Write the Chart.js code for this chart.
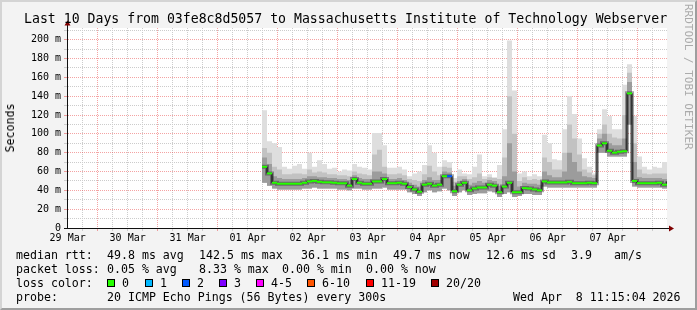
<!DOCTYPE html>
<html><head><meta charset="utf-8">
<script src="https://cdn.jsdelivr.net/npm/chart.js@4/dist/chart.umd.min.js"></script>
<style>
html,body{margin:0;padding:0;background:#f3f3f3;}
#wrap{position:relative;width:697px;height:310px;overflow:hidden;background:#f3f3f3;font-family:'DejaVu Sans Mono',monospace;color:#000;}
#c{position:absolute;left:0;top:0;}
.t{position:absolute;white-space:pre;font-size:11.6px;line-height:14px;}
.sw{position:absolute;width:8px;height:8px;box-sizing:border-box;border:1px solid #000;}
#frame{position:absolute;left:0;top:0;width:697px;height:310px;box-sizing:border-box;border-top:2px solid #d4d4d4;border-left:2px solid #d4d4d4;border-right:2px solid #9e9e9e;border-bottom:2px solid #9e9e9e;pointer-events:none;}
</style></head>
<body>
<div id="wrap">
<canvas id="c" width="697" height="310"></canvas>
<div class="t" style="left:24px;top:11px;font-size:13.2px;line-height:16px;">Last 10 Days from 03fe8c8d5057 to Massachusetts Institute of Technology Webserver</div>
<div class="t" style="left:10px;top:128px;transform:translate(-50%,-50%) rotate(-90deg);">Seconds</div>
<div class="t" style="left:682px;top:4px;writing-mode:vertical-rl;font-size:11px;line-height:12px;color:#ababab;">RRDTOOL / TOBI OETIKER</div>
<div id="legend"></div>
<div id="frame"></div>
</div>
<script>
// ---- data (hours since 29 Mar 00:00; one sample column per 2 h) ----
const dayLabels = ['29 Mar','30 Mar','31 Mar','01 Apr','02 Apr','03 Apr','04 Apr','05 Apr','06 Apr','07 Apr'];
const axisStartHour = 11.75, axisEndHour = 251.75;
const sampleStartHour = 89.75, sampleStepHours = 2;

const medianRtt = [65,58,48,47,47,47,47,47,48,49.5, 50,49,48.5,48.5,48,47.5,47.5,45,52,48,
  47,47,49.5,49.5,52,47.6,47.6,48,47,43.5, 41,38.5,46,47,45,46,55,55,39,46,
  48,40,42,43,43,46,45,38,44,48, 38,38,42.4,42,41,40,49.5,48.4,48.4,48.4,
  48.4,49,47.6,47.6,47.6,48,47.6,87.6,90,82, 80,81,81.5,143,50,47.6,47.6,47.6,47.6,48,
  46,49.5];
const minRtt = [48,45,42,41,41,41,41,41,42,42, 43,42,42,42,42,41,41,40,42,42,
  41,41,42,42,43,41,41,41,41,38, 36,34,38,40,38,39,42,40,34,38,
  40,35,36,37,37,39,38,33,36,38, 33,34,36,36,35,35,44,43,43,43,
  43,43,43,43,43,43,43,80,80,76, 76,76,76,110,44,43,43,43,43,43,
  42,43];
const p75Rtt = [75,68,55,53,52,52,52,52,53,55, 55,54,54,53,53,52,52,51,56,53,
  52,52,60,60,58,52,52,53,51,48, 46,44,51,54,51,51,60,59,45,50,
  52,46,48,50,48,51,50,45,55,90, 60,44,48,47,47,46,60,56,54,54,
  60,80,70,60,55,54,53,95,100,90, 88,88,95,155,70,54,53,53,53,53,
  52,54];
const p90Rtt = [85,80,65,62,57,57,58,58,57,62, 59,60,59,57,57,56,56,55,60,58,
  57,56,78,83,65,57,57,58,56,52, 51,50,57,66,60,56,65,64,49,55,
  55,52,54,58,52,54,53,52,75,140, 100,50,54,51,52,51,75,70,62,62,
  80,110,95,78,62,59,56,100,110,100, 96,95,120,165,90,62,58,57,58,58,
  58,60];
const maxRtt = [125,92,90,86,65,63,66,68,63,80, 65,72,68,63,64,60,62,61,68,65,
  64,62,101,101,88,64,64,65,62,55, 58,60,67,88,80,65,72,70,53,62,
  58,57,65,78,55,57,54,67,105,199, 146,58,60,55,57,55,99,90,73,72,
  105,140,121,95,74,65,58,105,126,119, 105,105,152,174,119,76,65,62,65,64,
  70,70];
const lossCount = [0,0,0,0,0,0,0,0,0,0, 0,0,0,0,0,0,0,0,0,0,
  0,0,0,0,0,0,0,0,0,0, 0,0,0,0,0,0,0,2,0,0,
  0,0,0,0,0,0,0,0,0,0, 0,0,0,0,0,0,0,0,0,0,
  0,0,0,0,0,0,0,0,0,0, 0,0,0,0,0,0,0,0,0,0,
  0,0];
const lossLabels = ['0','1','2','3','4-5','6-10','11-19','20/20'];
const lossColors = ['#26ff00','#00b8ff','#0059ff','#7e00ff','#ff00ff','#ff5500','#ff0000','#a10000'];
const yTickValues = [0,10,20,30,40,50,60,70,80,90,100,110,120,130,140,150,160,170,180,190,200,210];

// ---- legend text ----
const legendRows = [
  [[16,'median rtt:'],[107,'49.8 ms avg'],[199,'142.5 ms max'],[301,'36.1 ms min'],[393,'49.7 ms now'],[486,'12.6 ms sd'],[571,'3.9'],[614,'am/s']],
  [[16,'packet loss:'],[107,'0.05 % avg'],[199,'8.33 % max'],[282,'0.00 % min'],[366,'0.00 % now']],
  [[16,'loss color:']],
  [[16,'probe:'],[107,'20 ICMP Echo Pings (56 Bytes) every 300s'],[513,'Wed Apr  8 11:15:04 2026']]
];
const rowTops = [248,262,276,290];
const swatchLefts = [107,145,182,219,256,307,366,431];
const swatchLabelLefts = [122,160,197,234,271,322,381,446];
const lg = document.getElementById('legend');
legendRows.forEach((row,r)=>row.forEach(([x,s])=>{
  const d=document.createElement('div'); d.className='t'; d.style.left=x+'px'; d.style.top=rowTops[r]+'px'; d.textContent=s; lg.appendChild(d);
}));
lossLabels.forEach((s,i)=>{
  const b=document.createElement('div'); b.className='sw'; b.style.left=swatchLefts[i]+'px'; b.style.top='279px'; b.style.background=lossColors[i]; lg.appendChild(b);
  const d=document.createElement('div'); d.className='t'; d.style.left=swatchLabelLefts[i]+'px'; d.style.top=rowTops[2]+'px'; d.textContent=s; lg.appendChild(d);
});

// ---- chart ----
const sampleHours = medianRtt.map((_,i)=>sampleStartHour + i*sampleStepHours);
const pts = arr => sampleHours.map((h,i)=>({x:h, y:arr[i]}));
const lossColorFor = n => n===0?lossColors[0]:n===1?lossColors[1]:n===2?lossColors[2]:n===3?lossColors[3]:n<=5?lossColors[4]:n<=10?lossColors[5]:n<=19?lossColors[6]:lossColors[7];
const nCols = medianRtt.length-1;
const greenPts = sampleHours.slice(0,nCols).map((h,i)=>({x:h+sampleStepHours/2, y:medianRtt[i]}));
const greenCols = lossCount.slice(0,nCols).map(lossColorFor);

const MAJOR='rgba(230,50,50,0.45)', MINOR='#cccccc';
const FONT={family:"'DejaVu Sans Mono'", size:10};

const framePlugin = {
  id:'framePlugin',
  beforeDraw(chart){
    const {ctx, chartArea:a}=chart;
    ctx.save(); ctx.fillStyle='#ffffff'; ctx.fillRect(a.left,a.top,a.right-a.left,a.bottom-a.top); ctx.restore();
  },
  afterDraw(chart){
    const {ctx, chartArea:a}=chart;
    ctx.save();
    ctx.strokeStyle='#101010'; ctx.lineWidth=1;
    ctx.beginPath(); ctx.moveTo(a.left+0.5,a.top); ctx.lineTo(a.left+0.5,a.top-4); ctx.stroke();
    ctx.beginPath(); ctx.moveTo(a.right,a.bottom+0.5); ctx.lineTo(a.right+3,a.bottom+0.5); ctx.stroke();
    ctx.fillStyle='#7f0000';
    ctx.beginPath(); ctx.moveTo(a.left+0.5,a.top-7.5); ctx.lineTo(a.left-2.5,a.top-2.5); ctx.lineTo(a.left+3.5,a.top-2.5); ctx.closePath(); ctx.fill();
    ctx.beginPath(); ctx.moveTo(a.right+7,a.bottom+0.5); ctx.lineTo(a.right+2,a.bottom-2.5); ctx.lineTo(a.right+2,a.bottom+3.5); ctx.closePath(); ctx.fill();
    ctx.restore();
  }
};

const band = (arr, color, fillTarget) => ({data:pts(arr), stepped:true, borderWidth:0, borderColor:'rgba(0,0,0,0)', pointRadius:0, backgroundColor:color, fill:fillTarget});

new Chart(document.getElementById('c'), {
  type:'line',
  data:{datasets:[
    {data:greenPts, showLine:false, pointStyle:'line', pointRadius:2.5, pointBorderWidth:2, pointBorderColor:greenCols, pointBackgroundColor:greenCols},
    {data:pts(medianRtt), stepped:true, borderColor:'#000', borderWidth:1, pointRadius:0, fill:false},
    {data:pts(medianRtt), stepped:true, borderColor:'rgba(30,30,30,0.4)', borderWidth:4, pointRadius:0, fill:false},
    band(p75Rtt,'#9c9c9c',4),
    band(minRtt,'rgba(0,0,0,0)',false),
    band(p90Rtt,'#c2c2c2',4),
    band(maxRtt,'#dedede',4)
  ]},
  options:{
    responsive:false, animation:false, events:[],
    layout:{autoPadding:false, padding:{left:0, top:28, right:30, bottom:0}},
    plugins:{legend:{display:false}, tooltip:{enabled:false}},
    scales:{
      x:{type:'linear', min:axisStartHour, max:axisEndHour,
        afterFit:s=>{s.height=82;},
        afterBuildTicks:s=>{const t=[]; for(let h=12; h<=axisEndHour; h+=6) t.push({value:h}); s.ticks=t;},
        ticks:{autoSkip:false, maxRotation:0, minRotation:0, padding:1, font:FONT, color:'#000',
          callback:v=> (v%24===12) ? dayLabels[(v-12)/24] : ''},
        grid:{color:c=>{const v=c.tick?c.tick.value:0; if(v===12) return 'rgba(0,0,0,0)'; return v%24===0?MAJOR:MINOR;}, lineWidth:1, tickLength:3, drawTicks:true},
        border:{display:true, color:'#101010', width:1, dash:[1,1]}
      },
      y:{type:'linear', min:0, max:212.4,
        afterFit:s=>{s.width=67;},
        afterBuildTicks:s=>{s.ticks=yTickValues.map(v=>({value:v}));},
        ticks:{autoSkip:false, padding:3, font:FONT, color:'#000',
          callback:v=> v===0 ? '0' : (v%20===0 ? v+' m' : '')},
        grid:{color:c=>{const v=c.tick?c.tick.value:0; if(v===0) return '#101010'; return v%20===0?MAJOR:MINOR;}, lineWidth:1, tickLength:3, drawTicks:true},
        border:{display:true, color:'#101010', width:1, dash:[1,1]}
      }
    }
  },
  plugins:[framePlugin]
});
</script>
</body></html>
